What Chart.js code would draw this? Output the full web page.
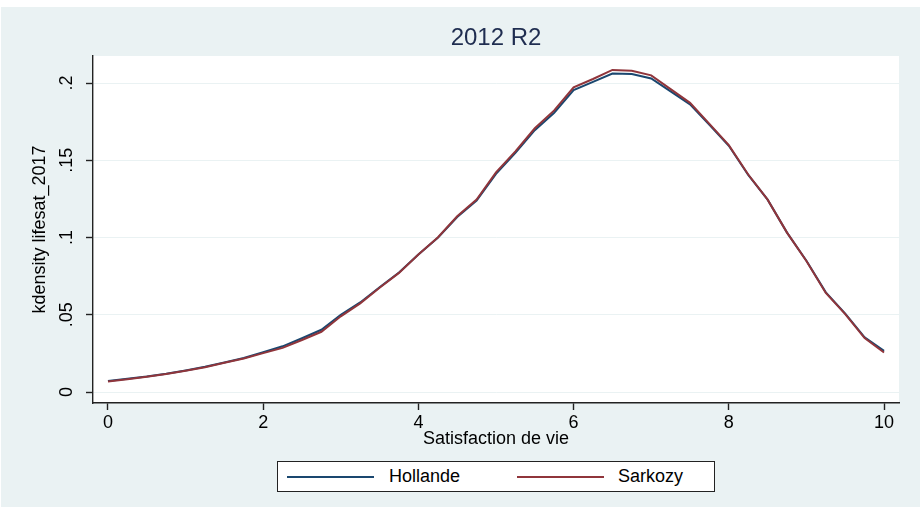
<!DOCTYPE html>
<html>
<head>
<meta charset="utf-8">
<script src="https://cdn.jsdelivr.net/npm/chart.js@4"></script>
<style>
  html, body { margin: 0; padding: 0; background: #fff; }
  #wrap { position: relative; width: 922px; height: 509px; }
  #legend {
    position: absolute; left: 277px; top: 461px; width: 438px; height: 31px;
    box-sizing: border-box; border: 1px solid #222; background: #fff;
    font-family: 'Liberation Sans', Arial, sans-serif; font-size: 18px; color: #000;
  }
  #legend .line { position: absolute; top: 14px; width: 87px; height: 2px; }
  #legend .txt { position: absolute; top: 4px; line-height: 21px; }
</style>
</head>
<body>
<div id="wrap">
  <canvas id="chart" width="922" height="509"></canvas>
  <div id="legend"></div>
</div>
<script>
// kdensity evaluation points (Satisfaction de vie)
const xValues = [0, 0.25, 0.5, 0.75, 1, 1.25, 1.5, 1.75, 2, 2.25, 2.5, 2.75, 3, 3.25, 3.5, 3.75,
  4, 4.25, 4.5, 4.75, 5, 5.25, 5.5, 5.75, 6, 6.25, 6.5, 6.75, 7, 7.25, 7.5, 7.75,
  8, 8.25, 8.5, 8.75, 9, 9.25, 9.5, 9.75, 10];

const hollande = [0.0072, 0.0086, 0.0101, 0.0119, 0.0140, 0.0163, 0.0191, 0.0220, 0.0258, 0.0296,
  0.0348, 0.0403, 0.0500, 0.0580, 0.0678, 0.0773, 0.0890, 0.0998, 0.1133, 0.1240,
  0.1412, 0.1548, 0.1695, 0.1808, 0.1955, 0.2008, 0.2062, 0.2058, 0.2030, 0.1946,
  0.1862, 0.1730, 0.1594, 0.1405, 0.1245, 0.1032, 0.0850, 0.0645, 0.0508, 0.0354, 0.0266];

const sarkozy = [0.0068, 0.0083, 0.0099, 0.0117, 0.0138, 0.0161, 0.0189, 0.0217, 0.0252, 0.0286,
  0.0337, 0.0390, 0.0490, 0.0574, 0.0675, 0.0771, 0.0890, 0.1000, 0.1138, 0.1246,
  0.1422, 0.1558, 0.1707, 0.1823, 0.1972, 0.2026, 0.2085, 0.2080, 0.2050, 0.1961,
  0.1872, 0.1736, 0.1598, 0.1408, 0.1245, 0.1032, 0.0848, 0.0641, 0.0504, 0.0349, 0.0256];

const seriesNames = ["Hollande", "Sarkozy"];
const seriesColors = ["#1A476F", "#90353B"];

const xTicks = [0, 2, 4, 6, 8, 10];
const yTicks = [0, 0.05, 0.1, 0.15, 0.2];
const yTickLabels = ["0", ".05", ".1", ".15", ".2"];

const BG = "#EAF2F3";
const AXIS = "#222";

Chart.defaults.font.family = "'Liberation Sans', Arial, sans-serif";
Chart.defaults.color = "#000";

// stata-like graph region + white plot region
const background = {
  id: "background",
  beforeDraw(chart) {
    const { ctx, chartArea: a } = chart;
    ctx.save();
    ctx.fillStyle = "#fff";
    ctx.fillRect(0, 0, chart.width, chart.height);
    ctx.fillStyle = BG;
    ctx.fillRect(1, 7, 919, 500);
    ctx.fillStyle = "#fff";
    ctx.fillRect(a.left, a.top, a.right - a.left, a.bottom - a.top);
    ctx.restore();
  }
};

const toPoints = ys => ys.map((y, i) => ({ x: xValues[i], y: y }));

new Chart(document.getElementById("chart"), {
  type: "line",
  data: {
    datasets: [
      { label: seriesNames[0], data: toPoints(hollande), borderColor: seriesColors[0], order: 1 },
      { label: seriesNames[1], data: toPoints(sarkozy), borderColor: seriesColors[1], order: 0 }
    ]
  },
  options: {
    responsive: false,
    animation: false,
    devicePixelRatio: 1,
    layout: { padding: { left: 0, right: 23, top: 0, bottom: 0 } },
    elements: {
      point: { radius: 0 },
      line: { borderWidth: 2, tension: 0, fill: false }
    },
    plugins: {
      legend: { display: false },
      tooltip: { enabled: false },
      title: {
        display: true,
        fullSize: false,
        text: "2012 R2",
        color: "#1f2d50",
        font: { size: 24, weight: "normal" },
        padding: { top: 24.2, bottom: 3 }
      }
    },
    scales: {
      x: {
        type: "linear",
        min: -0.193,
        max: 10.193,
        afterBuildTicks: s => { s.ticks = xTicks.map(v => ({ value: v })); },
        afterFit: s => { s.height = 106; },
        ticks: { maxRotation: 0, padding: 2, font: { size: 18 }, color: "#000" },
        grid: { drawOnChartArea: false, tickColor: AXIS, tickLength: 7, tickWidth: 1.4 },
        border: { color: AXIS, width: 1.4 },
        title: {
          display: true,
          text: "Satisfaction de vie",
          font: { size: 18 },
          color: "#000",
          padding: { top: 0, bottom: 59.2 }
        }
      },
      y: {
        type: "linear",
        min: -0.0071,
        max: 0.2175,
        afterBuildTicks: s => { s.ticks = yTicks.map(v => ({ value: v })); },
        afterFit: s => { s.width = 93; },
        ticks: {
          callback: v => yTickLabels[yTicks.indexOf(v)],
          minRotation: 90,
          maxRotation: 90,
          crossAlign: "center",
          padding: 6.5,
          font: { size: 18 },
          color: "#000"
        },
        grid: { color: BG, lineWidth: 1, tickColor: AXIS, tickLength: 7, tickWidth: 1.4 },
        border: { color: AXIS, width: 1.4 },
        title: {
          display: true,
          text: "kdensity lifesat_2017",
          font: { size: 18 },
          color: "#000",
          padding: { top: 29.2, bottom: 0 }
        }
      }
    }
  },
  plugins: [background]
});

// boxed legend below the plot
const legendEl = document.getElementById("legend");
const lineLeft = [9, 239];
const textLeft = [111, 340];
seriesNames.forEach((name, i) => {
  const line = document.createElement("span");
  line.className = "line";
  line.style.left = lineLeft[i] + "px";
  line.style.background = seriesColors[i];
  const txt = document.createElement("span");
  txt.className = "txt";
  txt.style.left = textLeft[i] + "px";
  txt.textContent = name;
  legendEl.appendChild(line);
  legendEl.appendChild(txt);
});
</script>
</body>
</html>
